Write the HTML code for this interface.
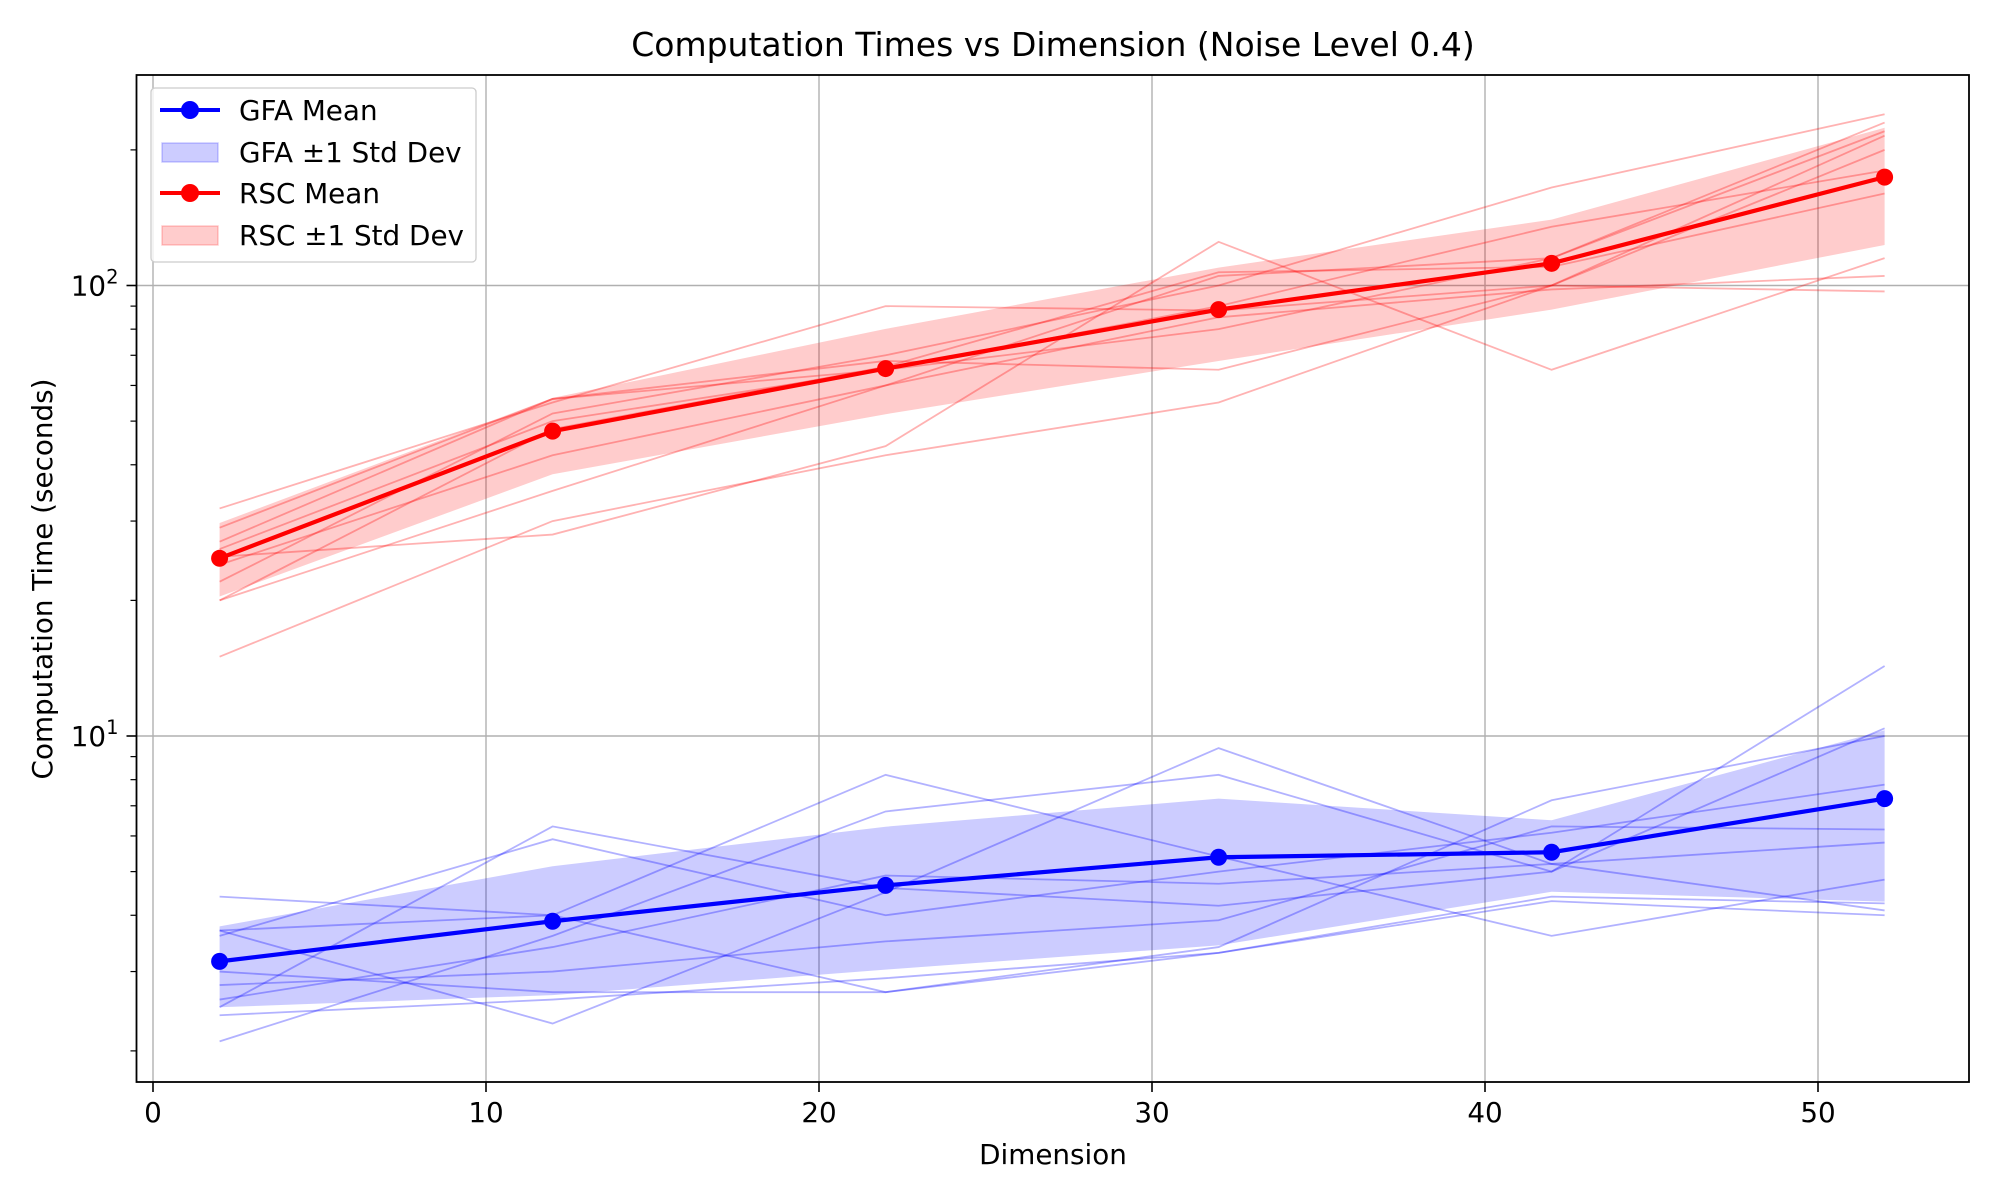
<!DOCTYPE html>
<html><head><meta charset="utf-8"><style>
html,body{margin:0;padding:0;background:#fff;}
svg{display:block;font-family:"DejaVu Sans","Liberation Sans",sans-serif;}
</style></head><body>
<svg id="chart" width="2000" height="1200" viewBox="0 0 2000 1200">
<g id="grid"></g>
<g id="bands"></g>
<g id="runs"></g>
<g id="means"></g>
<g id="axes"></g>
<text x="1053" y="56" font-size="33" text-anchor="middle">Computation Times vs Dimension (Noise Level 0.4)</text>
<text x="1053" y="1164" font-size="27.8" text-anchor="middle">Dimension</text>
<text transform="translate(52,579) rotate(-90)" font-size="27.8" text-anchor="middle">Computation Time (seconds)</text>
<g id="legend">
<rect x="151" y="88" width="325" height="174" rx="4" fill="#fff" fill-opacity="0.8" stroke="#ccc" stroke-width="1.3"/>
<g><line x1="160" y1="110" x2="220" y2="110" stroke="#0000ff" stroke-width="4"/><circle cx="190" cy="110" r="9" fill="#0000ff"/><text x="239" y="120" font-size="27.8">GFA Mean</text></g>
<g><rect x="162" y="143" width="56" height="19" fill="#0000ff" fill-opacity="0.2" stroke="#0000ff" stroke-opacity="0.2" stroke-width="1.5"/><text x="239" y="162" font-size="27.8">GFA ±1 Std Dev</text></g>
<g><line x1="160" y1="193" x2="220" y2="193" stroke="#ff0000" stroke-width="4"/><circle cx="190" cy="193" r="9" fill="#ff0000"/><text x="239" y="203" font-size="27.8">RSC Mean</text></g>
<g><rect x="162" y="226" width="56" height="19" fill="#ff0000" fill-opacity="0.2" stroke="#ff0000" stroke-opacity="0.2" stroke-width="1.5"/><text x="239" y="245" font-size="27.8">RSC ±1 Std Dev</text></g>
</g>
</svg>
<script>
const dims = [2, 12, 22, 32, 42, 52];
const gfaMean = [3.16, 3.88, 4.66, 5.38, 5.52, 7.26];
const gfaUpper = [3.78, 5.14, 6.29, 7.26, 6.5, 10.3];
const gfaLower = [2.5, 2.66, 3.03, 3.43, 4.51, 4.29];
const rscMean = [24.8, 47.5, 65.4, 88.4, 112, 174];
const rscUpper = [29.7, 56.3, 80.1, 109.6, 140, 224];
const rscLower = [20.4, 38.1, 51.8, 68.0, 88.4, 123];
const gfaRuns = [
 [2.1,3.6,6.8,8.2,5.0,14.3],[4.4,4.0,2.7,3.3,4.3,4.0],[2.5,6.3,4.6,4.2,5.0,10.4],
 [3.7,2.3,4.5,9.4,5.2,4.1],[2.8,3.0,3.5,3.9,6.3,6.2],[3.0,2.7,2.7,3.4,7.2,10.0],
 [3.7,4.0,8.2,5.4,3.6,4.8],[2.6,3.4,4.9,4.7,5.2,5.8],[3.6,5.9,4.0,5.0,6.1,7.8],
 [2.4,2.6,2.9,3.3,4.4,4.25]];
const rscRuns = [
 [32,55,90,88,100,97],[15,30,42,55,100,215],[25,28,44,125,65,115],
 [20,35,60,105,115,230],[27,56,68,65,100,200],[22,52,70,100,165,240],
 [20,48,66,107,110,160],[29,56,65,90,135,180],[24,42,60,85,98,105],
 [26,50,65,80,115,220]];
const xTicks = [0,10,20,30,40,50];
const yMajor = [10,100];
const yMinor = [2,3,4,5,6,7,8,9,20,30,40,50,60,70,80,90,200];

const L=136.5,R=1969,T=75,B=1082;
const xs = v => 153 + v*(1818-153)/50;
const ys = v => 736 - (Math.log10(v)-1)*450.5;
const NS="http://www.w3.org/2000/svg";
function mk(tag, attrs, parent){const e=document.createElementNS(NS,tag);for(const k in attrs)e.setAttribute(k,attrs[k]);parent.appendChild(e);return e;}
const grid=document.getElementById('grid'),axes=document.getElementById('axes'),bands=document.getElementById('bands'),runs=document.getElementById('runs'),means=document.getElementById('means');

xTicks.forEach(t=>{
 const g=mk('line',{x1:xs(t),x2:xs(t),y1:T,y2:B,stroke:'#b0b0b0','stroke-width':1.4},grid);
 
 
 const tk=mk('line',{x1:xs(t),x2:xs(t),y1:B,y2:B+10,stroke:'#000','stroke-width':1.6},axes);
 
 
 const tx=mk('text',{x:xs(t),y:B+40,'font-size':27.8,'text-anchor':'middle'},axes);
 tx.textContent=t;
 
 
});
yMajor.forEach(v=>{
 const g=mk('line',{x1:L,x2:R,y1:ys(v),y2:ys(v),stroke:'#b0b0b0','stroke-width':1.4},grid);
 
 
 const tk=mk('line',{x1:L-10,x2:L,y1:ys(v),y2:ys(v),stroke:'#000','stroke-width':1.6},axes);
 
 
 const tx=mk('text',{x:L-18,y:ys(v)+10,'font-size':27.8,'text-anchor':'end'},axes);
 
 
 const e=Math.round(Math.log10(v));
 tx.innerHTML='10<tspan dy="-12" font-size="19.5">'+e+'</tspan>';
});
yMinor.forEach(v=>{
 const tk=mk('line',{x1:L-6,x2:L,y1:ys(v),y2:ys(v),stroke:'#000','stroke-width':1.2},axes);
 
 
});
const frame=mk('rect',{x:L,y:T,width:R-L,height:B-T,fill:'none',stroke:'#000','stroke-width':1.8},axes);



function band(up,lo,color,name){
 let d='M'+dims.map((x,i)=>xs(x)+','+ys(up[i])).join('L');
 d+='L'+dims.map((x,i)=>[x,i]).reverse().map(([x,i])=>xs(x)+','+ys(lo[i])).join('L')+'Z';
 const p=mk('path',{d:d,fill:color,'fill-opacity':0.2,stroke:'none'},bands);
 
 
}
band(gfaUpper,gfaLower,'#0000ff','gfa-std-band');
band(rscUpper,rscLower,'#ff0000','rsc-std-band');

function poly(vals){return dims.map((x,i)=>xs(x)+','+ys(vals[i])).join(' ');}
gfaRuns.forEach(r=>{
 const p=mk('polyline',{points:poly(r),fill:'none',stroke:'#0000ff','stroke-opacity':0.3,'stroke-width':1.8},runs);
 
 
});
rscRuns.forEach(r=>{
 const p=mk('polyline',{points:poly(r),fill:'none',stroke:'#ff0000','stroke-opacity':0.3,'stroke-width':1.8},runs);
 
 
});
function meanLine(vals,color,name){
 const p=mk('polyline',{points:poly(vals),fill:'none',stroke:color,'stroke-width':4.2},means);
 
 
 dims.forEach((x,i)=>{
  const c=mk('circle',{cx:xs(x),cy:ys(vals[i]),r:8.5,fill:color},means);
  
  
 });
}
meanLine(gfaMean,'#0000ff','gfa-mean');
meanLine(rscMean,'#ff0000','rsc-mean');
</script>
</body></html>
